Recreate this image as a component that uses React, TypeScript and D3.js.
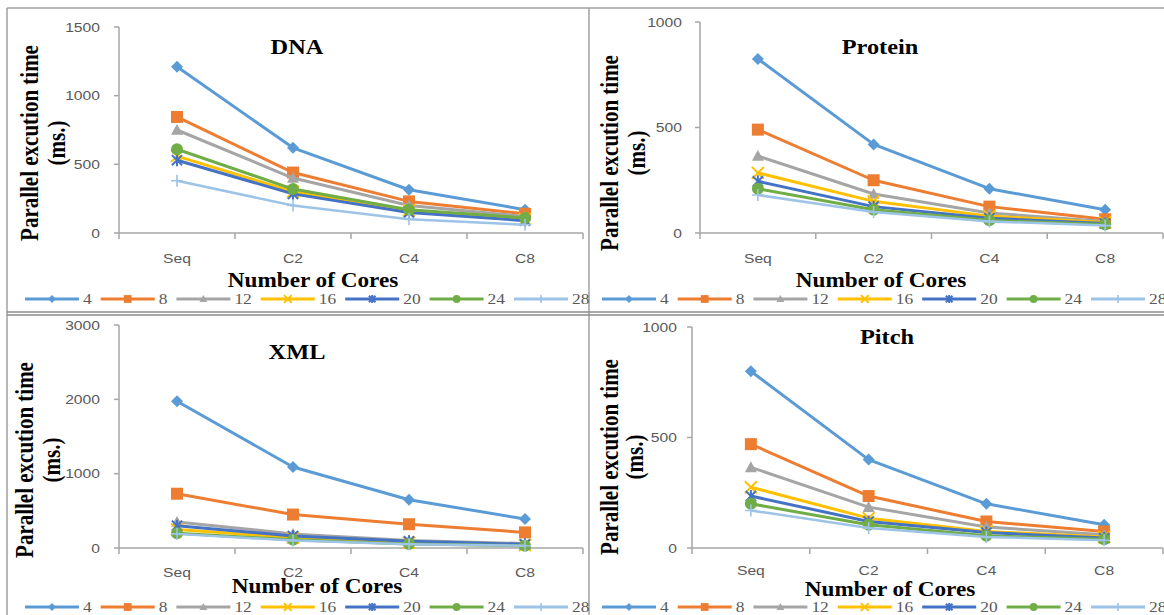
import React from "react";
import * as d3 from "d3";

const CATEGORIES = ["Seq", "C2", "C4", "C8"];
const SERIES = ["4", "8", "12", "16", "20", "24", "28"];
const COLORS = ["#5B9BD5", "#ED7D31", "#A5A5A5", "#FFC000", "#4472C4", "#70AD47", "#9DC3E6"];
const MARKERS = ["diamond", "square", "triangle", "x", "star", "circle", "plus"];

// rows follow SERIES order, columns follow CATEGORIES order
const dnaTimes = [
  [1210, 620, 315, 170],
  [845, 440, 230, 140],
  [750, 400, 200, 120],
  [560, 300, 165, 100],
  [530, 285, 150, 90],
  [610, 320, 170, 110],
  [380, 200, 100, 60],
];
const proteinTimes = [
  [825, 420, 210, 110],
  [490, 250, 125, 65],
  [365, 185, 95, 55],
  [285, 150, 80, 50],
  [245, 125, 70, 45],
  [210, 110, 60, 40],
  [180, 100, 55, 35],
];
const xmlTimes = [
  [1975, 1090, 650, 390],
  [730, 450, 320, 210],
  [350, 190, 100, 60],
  [250, 140, 70, 40],
  [300, 160, 90, 50],
  [200, 110, 55, 30],
  [190, 100, 50, 30],
];
const pitchTimes = [
  [800, 400, 200, 105],
  [470, 235, 120, 75],
  [365, 185, 95, 60],
  [275, 135, 75, 50],
  [235, 120, 70, 45],
  [200, 105, 55, 40],
  [170, 90, 50, 35],
];

const dnaTicks = [0, 500, 1000, 1500];
const proteinTicks = [0, 500, 1000];
const xmlTicks = [0, 1000, 2000, 3000];
const pitchTicks = [0, 500, 1000];

const TITLES = ["DNA", "Protein", "XML", "Pitch"];
const Y_TITLE = "Parallel excution time";
const Y_UNIT = "(ms.)";
const X_TITLE = "Number of Cores";

const SX = 1.16;
const SERIF = "'Liberation Serif', 'Times New Roman', serif";
const SANS = "'Liberation Sans', Arial, sans-serif";
const AXIS = "#a6a6a6";
const TXT = "#595959";

const PANELS = [
  { title: TITLES[0], data: dnaTimes, ticks: dnaTicks, x0: 119, x1: 583, yTop: 27, yBot: 233, titleX: 297, titleY: 47, catY: 258, xtX: 313, xtY: 281, ylX: 30, yuX: 57, ylY: 143, legX: 25, legY: 299, tickRight: 100 },
  { title: TITLES[1], data: proteinTimes, ticks: proteinTicks, x0: 700, x1: 1163, yTop: 22, yBot: 233, titleX: 880, titleY: 47, catY: 258, xtX: 881, xtY: 281, ylX: 610, yuX: 637, ylY: 153, legX: 602, legY: 299, tickRight: 682 },
  { title: TITLES[2], data: xmlTimes, ticks: xmlTicks, x0: 119, x1: 583, yTop: 325, yBot: 548, titleX: 297, titleY: 352, catY: 572, xtX: 317, xtY: 587, ylX: 25, yuX: 52, ylY: 460, legX: 25, legY: 607, tickRight: 100 },
  { title: TITLES[3], data: pitchTimes, ticks: pitchTicks, x0: 692, x1: 1163, yTop: 327, yBot: 548, titleX: 887, titleY: 337, catY: 570, xtX: 890, xtY: 590, ylX: 610, yuX: 635, ylY: 457, legX: 602, legY: 607, tickRight: 677 },
];

function SText(props: any) {
  const { x, y, size, family, weight, fill, anchor, rotate, children } = props;
  const t = `translate(${x},${y}) scale(${SX},1)` + (rotate ? " rotate(-90)" : "");
  return (
    <text transform={t} fontSize={size} fontFamily={family} fontWeight={weight || "normal"} fill={fill} textAnchor={anchor || "middle"} dominantBaseline="central">
      {children}
    </text>
  );
}

function Marker({ kind, cx, cy, s, color }: any) {
  const r = 6 * s;
  switch (kind) {
    case "diamond":
      return <path d={`M${cx},${cy - r}L${cx + r},${cy}L${cx},${cy + r}L${cx - r},${cy}Z`} fill={color} />;
    case "square":
      return <rect x={cx - r} y={cy - r} width={2 * r} height={2 * r} fill={color} />;
    case "triangle":
      return <path d={`M${cx},${cy - r}L${cx + r},${cy + r * 0.8}L${cx - r},${cy + r * 0.8}Z`} fill={color} />;
    case "x":
      return <path d={`M${cx - r},${cy - r}L${cx + r},${cy + r}M${cx + r},${cy - r}L${cx - r},${cy + r}`} stroke={color} strokeWidth={2} fill="none" />;
    case "star":
      return <path d={`M${cx - r * 0.85},${cy - r * 0.85}L${cx + r * 0.85},${cy + r * 0.85}M${cx + r * 0.85},${cy - r * 0.85}L${cx - r * 0.85},${cy + r * 0.85}M${cx},${cy - r}L${cx},${cy + r}`} stroke={color} strokeWidth={2} fill="none" />;
    case "circle":
      return <circle cx={cx} cy={cy} r={r} fill={color} />;
    case "plus":
      return <path d={`M${cx - r},${cy}L${cx + r},${cy}M${cx},${cy - r}L${cx},${cy + r}`} stroke={color} strokeWidth={1.6} fill="none" />;
    default:
      return null;
  }
}

function Panel({ p }: any) {
  const x = d3.scaleBand<string>().domain(CATEGORIES).range([p.x0, p.x1]).padding(0);
  const y = d3.scaleLinear().domain([0, p.ticks[p.ticks.length - 1]]).range([p.yBot, p.yTop]);
  const cx = (c: string) => (x(c) as number) + x.bandwidth() / 2;
  const line = d3.line<number>().x((_, i) => cx(CATEGORIES[i])).y((v) => y(v));
  const edges = CATEGORIES.map((c) => x(c) as number).concat([p.x1]);

  // legend layout
  let lx = p.legX;
  const legend = SERIES.map((s, i) => {
    const item = { x: lx, label: s, i };
    lx = lx + 54 + 4 + s.length * 8.7 + 9;
    return item;
  });

  return (
    <g>
      {/* axes */}
      <line x1={p.x0} x2={p.x0} y1={p.yTop} y2={p.yBot} stroke={AXIS} strokeWidth={1.5} />
      {p.ticks.map((t: number) => (
        <line key={"yt" + t} x1={p.x0 - 5} x2={p.x0} y1={y(t)} y2={y(t)} stroke={AXIS} strokeWidth={1.5} />
      ))}
      <line x1={p.x0} x2={p.x1} y1={p.yBot} y2={p.yBot} stroke={AXIS} strokeWidth={1.5} />
      {edges.map((e: number, i: number) => (
        <line key={"xt" + i} x1={e} x2={e} y1={p.yBot} y2={p.yBot + 6} stroke={AXIS} strokeWidth={1.5} />
      ))}
      {p.ticks.map((t: number) => (
        <SText key={"yl" + t} x={p.tickRight} y={y(t)} size={13.5} family={SANS} fill={TXT} anchor="end">
          {String(t)}
        </SText>
      ))}
      {CATEGORIES.map((c) => (
        <SText key={"xl" + c} x={cx(c)} y={p.catY} size={13.5} family={SANS} fill={TXT}>
          {c}
        </SText>
      ))}
      {/* titles */}
      <SText x={p.titleX} y={p.titleY} size={21} family={SERIF} weight="bold" fill="#000">
        {p.title}
      </SText>
      <SText x={p.xtX} y={p.xtY} size={20} family={SERIF} weight="bold" fill="#000">
        {X_TITLE}
      </SText>
      <SText x={p.ylX} y={p.ylY} size={21} family={SERIF} weight="bold" fill="#000" rotate>
        {Y_TITLE}
      </SText>
      <SText x={p.yuX} y={p.ylY} size={21} family={SERIF} weight="bold" fill="#000" rotate>
        {Y_UNIT}
      </SText>
      {/* series */}
      {p.data.map((vals: number[], i: number) => (
        <g key={"s" + i}>
          <path d={line(vals) || ""} fill="none" stroke={COLORS[i]} strokeWidth={i === 6 ? 2.5 : 3} strokeLinejoin="round" />
          {vals.map((v, j) => (
            <Marker key={j} kind={MARKERS[i]} cx={cx(CATEGORIES[j])} cy={y(v)} s={1} color={COLORS[i]} />
          ))}
        </g>
      ))}
      {/* legend */}
      {legend.map((it) => (
        <g key={"lg" + it.i}>
          <line x1={it.x} x2={it.x + 54} y1={p.legY} y2={p.legY} stroke={COLORS[it.i]} strokeWidth={3} />
          <Marker kind={MARKERS[it.i]} cx={it.x + 27} cy={p.legY} s={0.65} color={COLORS[it.i]} />
          <SText x={it.x + 58} y={p.legY} size={15} family={SERIF} fill={TXT} anchor="start">
            {it.label}
          </SText>
        </g>
      ))}
    </g>
  );
}

export default function App() {
  return (
    <svg width={1164} height={615} style={{ position: "absolute", left: 0, top: 0, background: "#fff" }}>
      <rect x={0} y={0} width={1164} height={615} fill="#fff" />
      {/* frames */}
      <line x1={7} x2={1164} y1={8} y2={8} stroke="#a0a0a0" strokeWidth={1.5} />
      <line x1={7} x2={7} y1={8} y2={615} stroke="#a0a0a0" strokeWidth={1.5} />
      <line x1={589} x2={589} y1={8} y2={615} stroke="#a0a0a0" strokeWidth={1.5} />
      <line x1={7} x2={1164} y1={312} y2={312} stroke="#8c8c8c" strokeWidth={1.5} />
      <line x1={7} x2={1164} y1={315} y2={315} stroke="#8c8c8c" strokeWidth={1.5} />
      {PANELS.map((p, i) => (
        <Panel key={i} p={p} />
      ))}
    </svg>
  );
}
